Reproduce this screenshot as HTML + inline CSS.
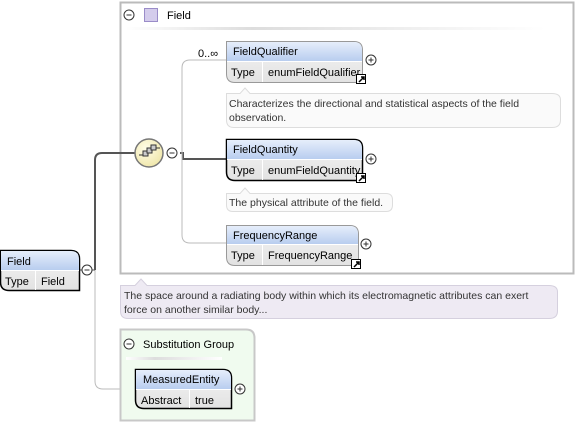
<!DOCTYPE html>
<html><head><style>
html,body{margin:0;padding:0;background:#fff;}
svg{display:block;font-family:"Liberation Sans",sans-serif;font-size:11px;}
</style></head><body>
<svg width="576" height="422" viewBox="0 0 576 422" xmlns="http://www.w3.org/2000/svg">
<defs>
<linearGradient id="hd" x1="0" y1="0" x2="0" y2="1"><stop offset="0" stop-color="#e6eefb"/><stop offset="1" stop-color="#b8cdef"/></linearGradient>
<linearGradient id="rw" x1="0" y1="0" x2="0" y2="1"><stop offset="0" stop-color="#f4f4f4"/><stop offset="1" stop-color="#e2e2e2"/></linearGradient>
<radialGradient id="seq" cx="0.4" cy="0.35" r="0.7"><stop offset="0" stop-color="#fffde8"/><stop offset="1" stop-color="#efe6a8"/></radialGradient>
<linearGradient id="sep" x1="0" y1="0" x2="1" y2="0"><stop offset="0" stop-color="#fff"/><stop offset="0.3" stop-color="#ddd"/><stop offset="1" stop-color="#fff"/></linearGradient>
</defs>

<!-- outer Field box -->
<rect x="120.5" y="2.5" width="453" height="271" fill="#fff" stroke="#bbb" stroke-width="2"/>
<rect x="126" y="27" width="420" height="3" fill="url(#sep)"/>
<circle cx="129" cy="15" r="5" fill="#fff" stroke="#333"/><line x1="126.5" y1="15" x2="131.5" y2="15" stroke="#333"/>
<rect x="144.5" y="8.5" width="13" height="13" fill="#d4ccec" stroke="#9a8cc8"/>
<text x="167" y="19" fill="#000">Field</text>

<!-- connectors -->
<path d="M95 270 V160 Q95 153 102 153 H135" fill="none" stroke="#555" stroke-width="2"/>
<path d="M180 153 H183 V159 H226" fill="none" stroke="#555" stroke-width="2"/>
<path d="M226 60 H190 Q182 60 182 68 V235 Q182 243 190 243 H226" fill="none" stroke="#bbb"/>
<path d="M95 270 V381 Q95 389 103 389 H135" fill="none" stroke="#bbb"/>
<line x1="79" y1="270" x2="95" y2="270" stroke="#555"/>

<!-- sequence icon -->
<circle cx="149" cy="153" r="14" fill="url(#seq)" stroke="#777" stroke-width="1.5"/>
<g stroke="#333" fill="#ccc">
<rect x="143" y="151" width="5" height="5"/><rect x="147" y="148" width="5" height="5"/><rect x="151" y="145" width="5" height="5"/>
</g>
<line x1="139" y1="155" x2="143" y2="155" stroke="#333"/><line x1="156" y1="148" x2="160" y2="148" stroke="#333"/>
<circle cx="172" cy="153" r="5" fill="#fff" stroke="#333"/><line x1="169.5" y1="153" x2="174.5" y2="153" stroke="#333"/>

<text x="198" y="57" fill="#000">0..∞</text>

<!-- node template: FieldQualifier -->
<g>
<path d="M226.5 41.5 H354 Q362.5 41.5 362.5 50 V82.5 H235 Q226.5 82.5 226.5 74 Z" fill="url(#rw)" stroke="#999"/>
<path d="M227 42 H354 Q362 42 362 50 V61 H227 Z" fill="url(#hd)"/>
<line x1="227" y1="61.5" x2="362" y2="61.5" stroke="#fff"/>
<line x1="262.5" y1="62" x2="262.5" y2="82" stroke="#fff"/>
<text x="233" y="55">FieldQualifier</text>
<text x="231" y="76">Type</text><text x="268" y="76">enumFieldQualifier</text>
<rect x="356.5" y="74.5" width="9" height="9" fill="#fff" stroke="#000"/><path d="M359 82 L364 77 M361 77 H364 V80" stroke="#000" stroke-width="1.5" fill="none"/>
<circle cx="371" cy="60" r="5" fill="#fff" stroke="#333"/><path d="M368.5 60 H373.5 M371 57.5 V62.5" stroke="#333"/>
</g>
<path d="M226.5 93.5 H240 L245 88 L250 93.5 H552 Q560.5 93.5 560.5 100 V120 Q560.5 127.5 552 127.5 H234 Q226.5 127.5 226.5 120 Z" fill="#fafafa" stroke="#ddd"/>
<text x="229" y="107" fill="#333" font-size="10.5">Characterizes the directional and statistical aspects of the field</text>
<text x="229" y="121" fill="#333" font-size="10.5">observation.</text>

<!-- FieldQuantity -->
<g>
<path d="M226.5 139.5 H354 Q362.5 139.5 362.5 148 V180.5 H235 Q226.5 180.5 226.5 172 Z" fill="url(#rw)" stroke="#000" stroke-width="1.5"/>
<path d="M227 140 H354 Q362 140 362 148 V159 H227 Z" fill="url(#hd)"/>
<line x1="227" y1="159.5" x2="362" y2="159.5" stroke="#fff"/>
<line x1="262.5" y1="160" x2="262.5" y2="180" stroke="#fff"/>
<text x="233" y="153">FieldQuantity</text>
<text x="231" y="174">Type</text><text x="268" y="174">enumFieldQuantity</text>
<rect x="356.5" y="173.5" width="9" height="9" fill="#fff" stroke="#000"/><path d="M359 181 L364 176 M361 176 H364 V179" stroke="#000" stroke-width="1.5" fill="none"/>
<circle cx="371" cy="159" r="5" fill="#fff" stroke="#333"/><path d="M368.5 159 H373.5 M371 156.5 V161.5" stroke="#333"/>
</g>
<path d="M226.5 193.5 H240 L245 188 L250 193.5 H386 Q392.5 193.5 392.5 200 V205 Q392.5 211.5 386 211.5 H233 Q226.5 211.5 226.5 205 Z" fill="#fafafa" stroke="#ddd"/>
<text x="229" y="206" fill="#333" font-size="10.5">The physical attribute of the field.</text>

<!-- FrequencyRange -->
<g>
<path d="M226.5 225.5 H350 Q358.5 225.5 358.5 234 V265.5 H235 Q226.5 265.5 226.5 257 Z" fill="url(#rw)" stroke="#999"/>
<path d="M227 226 H350 Q358 226 358 234 V244 H227 Z" fill="url(#hd)"/>
<line x1="227" y1="244.5" x2="358" y2="244.5" stroke="#fff"/>
<line x1="262.5" y1="245" x2="262.5" y2="265" stroke="#fff"/>
<text x="233" y="239">FrequencyRange</text>
<text x="231" y="259">Type</text><text x="268" y="259">FrequencyRange</text>
<rect x="351.5" y="259.5" width="9" height="9" fill="#fff" stroke="#000"/><path d="M354 267 L359 262 M356 262 H359 V265" stroke="#000" stroke-width="1.5" fill="none"/>
<circle cx="366" cy="244" r="5" fill="#fff" stroke="#333"/><path d="M363.5 244 H368.5 M366 241.5 V246.5" stroke="#333"/>
</g>

<!-- Field doc -->
<path d="M120.5 285.5 H135 L141 279 L147 285.5 H549 Q557.5 285.5 557.5 292 V311 Q557.5 318.5 549 318.5 H128 Q120.5 318.5 120.5 311 Z" fill="#eeeaf3" stroke="#d5d0de"/>
<text x="124" y="299" fill="#333" font-size="10.5">The space around a radiating body within which its electromagnetic attributes can exert</text>
<text x="124" y="313" fill="#333" font-size="10.5">force on another similar body...</text>

<!-- Field node -->
<g>
<path d="M0.5 250.5 H71 Q79.5 250.5 79.5 259 V290.5 H9 Q0.5 290.5 0.5 282 Z" fill="url(#rw)" stroke="#000" stroke-width="1.5"/>
<path d="M1 251 H71 Q79 251 79 259 V270 H1 Z" fill="url(#hd)"/>
<line x1="1" y1="270.5" x2="79" y2="270.5" stroke="#fff"/>
<line x1="35.5" y1="271" x2="35.5" y2="290" stroke="#fff"/>
<text x="7" y="265">Field</text>
<text x="5" y="285">Type</text><text x="41" y="285">Field</text>
</g>
<circle cx="87" cy="270" r="5" fill="#fff" stroke="#333"/><line x1="84.5" y1="270" x2="89.5" y2="270" stroke="#333"/>

<!-- Substitution group -->
<path d="M120.5 329.5 H246 Q254.5 329.5 254.5 338 V420.5 H120.5 Z" fill="#f0fbef" stroke="#c8c8c8" stroke-width="2"/>
<rect x="126" y="357" width="96" height="3" fill="url(#sep)"/>
<circle cx="129" cy="344" r="5" fill="#fff" stroke="#333"/><line x1="126.5" y1="344" x2="131.5" y2="344" stroke="#333"/>
<text x="143" y="348">Substitution Group</text>
<g>
<path d="M135.5 369.5 H223 Q231.5 369.5 231.5 378 V408.5 H144 Q135.5 408.5 135.5 400 Z" fill="url(#rw)" stroke="#000" stroke-width="1.5"/>
<path d="M136 370 H223 Q231 370 231 378 V389 H136 Z" fill="url(#hd)"/>
<line x1="136" y1="389.5" x2="231" y2="389.5" stroke="#fff"/>
<line x1="189.5" y1="390" x2="189.5" y2="408" stroke="#fff"/>
<text x="143" y="383">MeasuredEntity</text>
<text x="141" y="404">Abstract</text><text x="195" y="404">true</text>
</g>
<circle cx="240" cy="389" r="5" fill="#fff" stroke="#333"/><path d="M237.5 389 H242.5 M240 386.5 V391.5" stroke="#333"/>
</svg>
</body></html>
